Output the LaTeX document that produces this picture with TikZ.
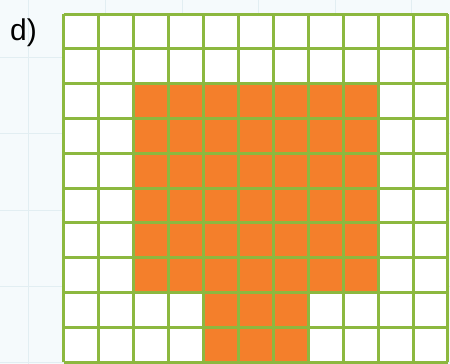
\documentclass[tikz,border=0pt]{standalone}
\usepackage{fontspec}
\setmainfont{Liberation Sans}
\definecolor{bgpaper}{HTML}{F5FAFC}
\definecolor{bgline}{HTML}{E2EEF2}
\definecolor{gridgreen}{HTML}{8CB83F}
\definecolor{cellorange}{HTML}{F47F2B}
\begin{document}
\begin{tikzpicture}[x=1pt,y=-1pt,
  gridline/.style={draw=gridgreen,line width=3pt},
  paperline/.style={draw=bgline,line width=1pt}]
\fill[bgpaper] (0,0) rectangle (450,364);
\useasboundingbox (0,0) rectangle (450,364);
% faint paper grid
\foreach \x in {28,105,182,258,335,411} \draw[paperline] (\x,0) -- (\x,364);
\foreach \y in {57,133,210,286,362} \draw[paperline] (0,\y) -- (450,\y);
% cells
\def\cw{34.95}
\def\ch{34.8}
\fill[white] (63.5,14) rectangle (448,362);
\foreach \c in {2,...,8}
  \foreach \r in {2,...,7}
    \fill[cellorange] (63.5+\c*\cw,14+\r*\ch) rectangle (63.5+\c*\cw+\cw,14+\r*\ch+\ch);
\foreach \c in {4,5,6}
  \foreach \r in {8,9}
    \fill[cellorange] (63.5+\c*\cw,14+\r*\ch) rectangle (63.5+\c*\cw+\cw,14+\r*\ch+\ch);
\foreach \c in {0,...,11} \draw[gridline] (63.5+\c*\cw,14) -- (63.5+\c*\cw,362);
\foreach \r in {0,...,10} \draw[gridline] (63.5,14+\r*\ch) -- (448,14+\r*\ch);
\node[anchor=base west,inner sep=0pt,font=\fontsize{30}{36}\selectfont] (lbl) at (10,40) {d)};
\end{tikzpicture}
\end{document}
